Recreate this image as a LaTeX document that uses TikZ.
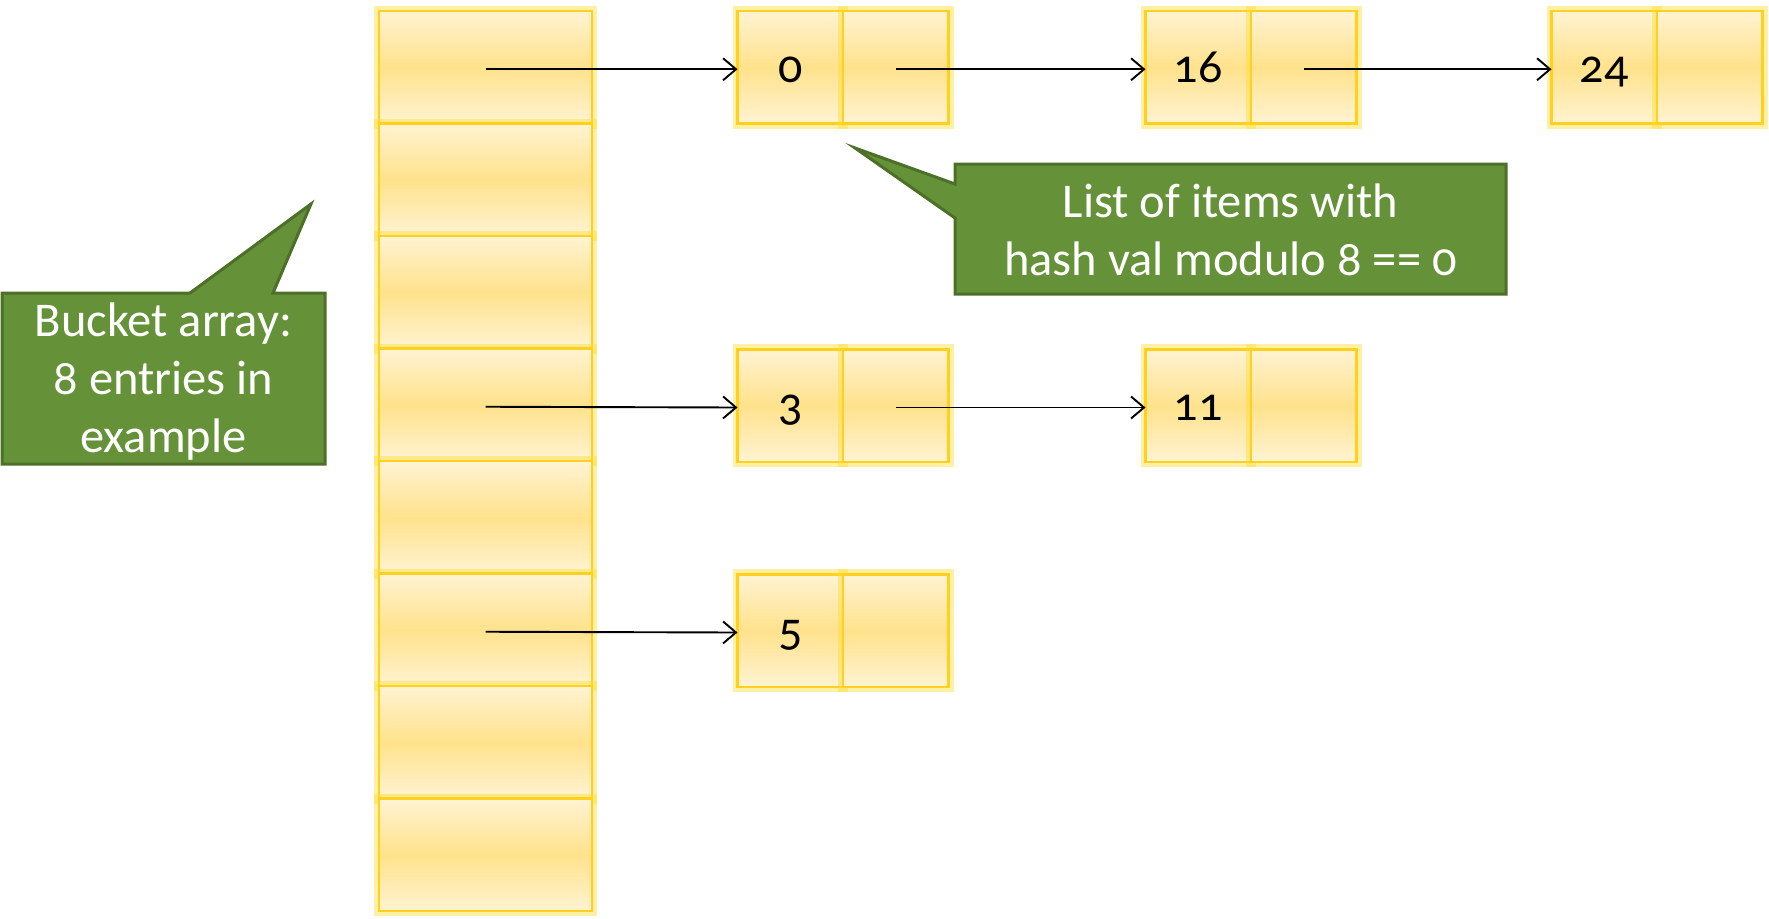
\documentclass[tikz,border=0pt]{standalone}
\usepackage{fontspec}
\setmainfont{Carlito}[Numbers=OldStyle]
\usetikzlibrary{arrows.meta}
\definecolor{cellborder}{RGB}{255,208,30}
\definecolor{cellglow}{RGB}{255,222,50}
\definecolor{celllight}{RGB}{255,243,210}
\definecolor{cellmid}{RGB}{255,226,140}
\definecolor{callfill}{RGB}{101,145,56}
\definecolor{calldraw}{RGB}{76,112,40}
\tikzset{
  cellbox/.style={draw=cellborder, line width=2.5pt, inner sep=0pt, outer sep=0pt,
    top color=celllight, bottom color=celllight, middle color=cellmid,
    preaction={draw=cellglow, line width=10pt, opacity=0.45}},
  bucketcell/.style={cellbox, minimum width=213pt, minimum height=112.5pt},
  listcell/.style={cellbox, minimum width=105.5pt, minimum height=112.5pt,
    text height=30pt, text depth=0pt, font=\fontsize{48}{50}\selectfont},
  callshape/.style={fill=callfill, draw=calldraw, line width=3pt, line join=miter},
  calltext/.style={text=white, align=center, font=\fontsize{48.5}{58}\selectfont},
  link/.style={draw=black, line width=1.9pt, -{Straight Barb[length=13pt,width=22pt,line width=1.9pt]}}
}
\begin{document}
\begin{tikzpicture}[x=1pt,y=-1pt]
\useasboundingbox (0,0) rectangle (1769,918);
% bucket array
\foreach \i in {0,...,7}{
  \node[bucketcell] (b\i) at (485.5,{11+56.25+112.5*\i}) {};
}
% list nodes: value cell and next cell
\node[listcell] (n0)  at (790.25,67.25) {0};
\node[listcell] (n0p) at (895.75,67.25) {};
\node[listcell] (n16)  at (1198.25,67.25) {16};
\node[listcell] (n16p) at (1303.75,67.25) {};
\node[listcell] (n24)  at (1604.25,67.25) {24};
\node[listcell] (n24p) at (1709.75,67.25) {};
\node[listcell] (n3)  at (790.25,405.5) {3};
\node[listcell] (n3p) at (895.75,405.5) {};
\node[listcell] (n11)  at (1198.25,405.5) {11};
\node[listcell] (n11p) at (1303.75,405.5) {};
\node[listcell] (n5)  at (790.25,630.5) {5};
\node[listcell] (n5p) at (895.75,630.5) {};
% links
\draw[link] ([yshift=-2pt]b0.center) -- ([yshift=-2pt]n0.west);
\draw[link] ([yshift=-2pt]n0p.center) -- ([yshift=-2pt]n16.west);
\draw[link] ([yshift=-2pt]n16p.center) -- ([yshift=-2pt]n24.west);
\draw[link] ([yshift=-2pt]b3.center) -- ([yshift=-2pt]n3.west);
\draw[link] ([yshift=-2pt]n3p.center) -- ([yshift=-2pt]n11.west);
\draw[link] ([yshift=-2pt]b5.center) -- ([yshift=-2pt]n5.west);
% callout 1
\draw[callshape] (2,293) -- (190,293) -- (311,204) -- (273,293) -- (325,293)
  -- (325,464) -- (2,464) -- cycle;
\node[calltext] (c1) at (163.5,382) {Bucket array:\\8 entries in\\example};
% callout 2
\draw[callshape] (955,164) -- (1506,164) -- (1506,294) -- (955,294) -- (955,218)
  -- (855,148) -- (955,184) -- cycle;
\node[calltext] (c2) at (1230.5,230) {List of items with\\hash val modulo 8 == 0};
\end{tikzpicture}
\end{document}
